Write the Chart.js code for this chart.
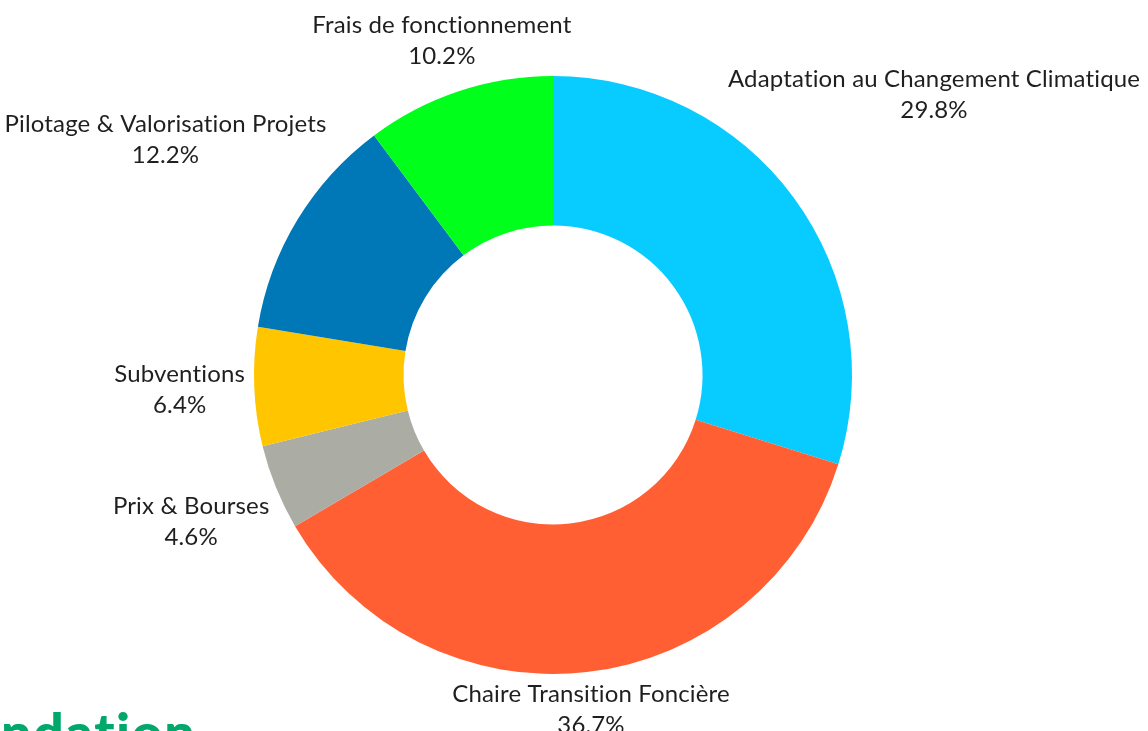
<!DOCTYPE html>
<html>
<head>
<meta charset="utf-8">
<script src="https://cdn.jsdelivr.net/npm/chart.js@4"></script>
<style>
  html, body { margin: 0; padding: 0; background: #fff; overflow: hidden; }
  #wrap { position: relative; width: 1148px; height: 731px; overflow: hidden; }
  #logo {
    position: absolute; left: 1px; top: 705px;
    font-family: "Lato", sans-serif; font-weight: 900; font-size: 54px;
    color: #00a86b; line-height: 1; letter-spacing: 1.5px;
  }
</style>
</head>
<body>
<div id="wrap">
  <canvas id="budget" width="1148" height="731"></canvas>
  <div id="logo">ndation</div>
</div>
<script>
// Budget split (percent of total)
const categories = [
  "Adaptation au Changement Climatique",
  "Chaire Transition Foncière",
  "Prix & Bourses",
  "Subventions",
  "Pilotage & Valorisation Projets",
  "Frais de fonctionnement",
];
const shares = [29.8, 36.7, 4.6, 6.4, 12.2, 10.2];
const sliceColors = [
  "#08cbff", // Adaptation - light blue
  "#ff5f33", // Chaire - orange
  "#abaca3", // Prix - gray
  "#ffc600", // Subventions - yellow
  "#0077b6", // Pilotage - blue
  "#00ff1a", // Frais - green
];

// Outside labels: name + percent, pushed out along the slice's mid angle
// until the text box clears the ring
const outsideLabels = {
  id: "outsideLabels",
  afterDraw: function (chart) {
    const ctx = chart.ctx;
    const meta = chart.getDatasetMeta(0);
    const lineGap = 31;
    const boxH = 53;
    const pad = 9;
    ctx.save();
    ctx.font = '24px "Lato", sans-serif';
    ctx.letterSpacing = "0.15px"; // also breaks the "ti" ligature
    ctx.fillStyle = "#1f1f1f";
    ctx.textAlign = "center";
    ctx.textBaseline = "middle";
    meta.data.forEach(function (arc, i) {
      const p = arc.getProps(["x", "y", "startAngle", "endAngle", "outerRadius"], true);
      const mid = (p.startAngle + p.endAngle) / 2;
      const ux = Math.cos(mid);
      const uy = Math.sin(mid);
      const line1 = categories[i];
      const line2 = shares[i].toFixed(1) + "%";
      const boxW = Math.max(ctx.measureText(line1).width, ctx.measureText(line2).width);
      const need = p.outerRadius + pad;
      let lo = 0, hi = 1200;
      for (let k = 0; k < 40; k++) {
        const d = (lo + hi) / 2;
        const dx = Math.max(Math.abs(d * ux) - boxW / 2, 0);
        const dy = Math.max(Math.abs(d * uy) - boxH / 2, 0);
        if (Math.hypot(dx, dy) >= need) hi = d; else lo = d;
      }
      const cx = p.x + hi * ux;
      const cy = p.y + hi * uy;
      ctx.fillText(line1, cx, cy - lineGap / 2);
      ctx.fillText(line2, cx, cy + lineGap / 2);
    });
    ctx.restore();
  },
};

new Chart(document.getElementById("budget"), {
  type: "doughnut",
  data: {
    labels: categories,
    datasets: [
      {
        data: shares,
        backgroundColor: sliceColors,
        borderWidth: 0,
      },
    ],
  },
  options: {
    responsive: false,
    animation: false,
    cutout: "50%",
    layout: {
      padding: { top: 76, bottom: 57, left: 254, right: 296 },
    },
    plugins: {
      legend: { display: false },
      tooltip: { enabled: false },
    },
  },
  plugins: [outsideLabels],
});
</script>
</body>
</html>
